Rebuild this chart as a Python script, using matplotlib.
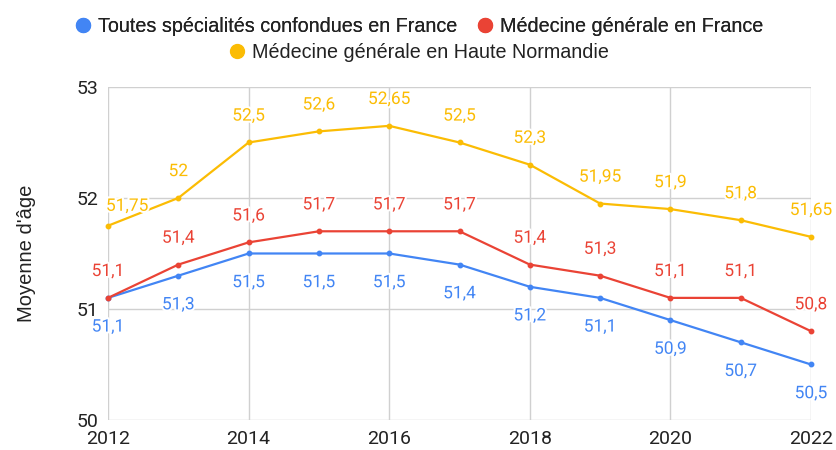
import matplotlib.pyplot as plt
from matplotlib.lines import Line2D
import matplotlib.patheffects as pe

plt.rcParams['font.family'] = ['Roboto', 'DejaVu Sans']

years = [2012, 2013, 2014, 2015, 2016, 2017, 2018, 2019, 2020, 2021, 2022]
toutes = [51.1, 51.3, 51.5, 51.5, 51.5, 51.4, 51.2, 51.1, 50.9, 50.7, 50.5]
mg_france = [51.1, 51.4, 51.6, 51.7, 51.7, 51.7, 51.4, 51.3, 51.1, 51.1, 50.8]
mg_hn = [51.75, 52, 52.5, 52.6, 52.65, 52.5, 52.3, 51.95, 51.9, 51.8, 51.65]

names = ["Toutes spécialités confondues en France",
         "Médecine générale en France",
         "Médecine générale en Haute Normandie"]
colors = ["#4285F4", "#EA4335", "#FBBC04"]

fig = plt.figure(figsize=(8.36, 4.5), dpi=100)
ax = fig.add_axes([0.1292, 0.0667, 0.8409, 0.74])

series = [toutes, mg_france, mg_hn]
# label offset in points: blue below, others above
offsets = [-21, 19, 19]
halo = [pe.withStroke(linewidth=3, foreground='white')]

for k, (vals, col, off) in enumerate(zip(series, colors, offsets)):
    ax.plot(years, vals, color=col, lw=1.6, marker='o', ms=3.2,
            clip_on=False, zorder=3)
    for i, (x, y) in enumerate(zip(years, vals)):
        txt = ('%g' % y).replace('.', ',')
        ha, dx, dy = 'center', 0, off
        if k == 2 and i == 0:
            # this one gets pushed inside the plot area
            ha, dx, dy = 'left', -1.5, 14
        ax.annotate(txt, (x, y), xytext=(dx, dy), textcoords='offset points',
                    ha=ha, va='center', color=col, fontsize=12.5,
                    path_effects=halo, zorder=4)

ax.set_xlim(2012, 2022)
ax.set_ylim(50, 53)
ax.set_xticks([2012, 2014, 2016, 2018, 2020, 2022])
ax.set_yticks([50, 51, 52, 53])
ax.grid(True, color='#d0d0d0', lw=1)
ax.set_axisbelow(True)
for s in ax.spines.values():
    s.set_visible(False)
ax.tick_params(length=0, labelsize=14, colors='#222222', pad=7)
ax.set_ylabel("Moyenne d'âge", fontsize=14.5, color='#222222', labelpad=29,
              family='Liberation Sans')

handles = [Line2D([], [], ls='none', marker='o', ms=10, color=c) for c in colors]
leg_kw = dict(loc='center', frameon=False, handletextpad=0.25, handlelength=1.0,
              borderpad=0, prop={'family': 'Liberation Sans', 'size': 14.2})
leg1 = fig.legend(handles[:2], names[:2], bbox_to_anchor=(0.5, 0.941),
                  ncol=2, columnspacing=0.9, **leg_kw)
for t in leg1.get_texts():
    t.set_color('#222222')
leg2 = fig.legend(handles[2:], names[2:], bbox_to_anchor=(0.5, 0.883), **leg_kw)
for t in leg2.get_texts():
    t.set_color('#222222')
fig.add_artist(leg1)

fig.savefig('out.png', dpi=100)
